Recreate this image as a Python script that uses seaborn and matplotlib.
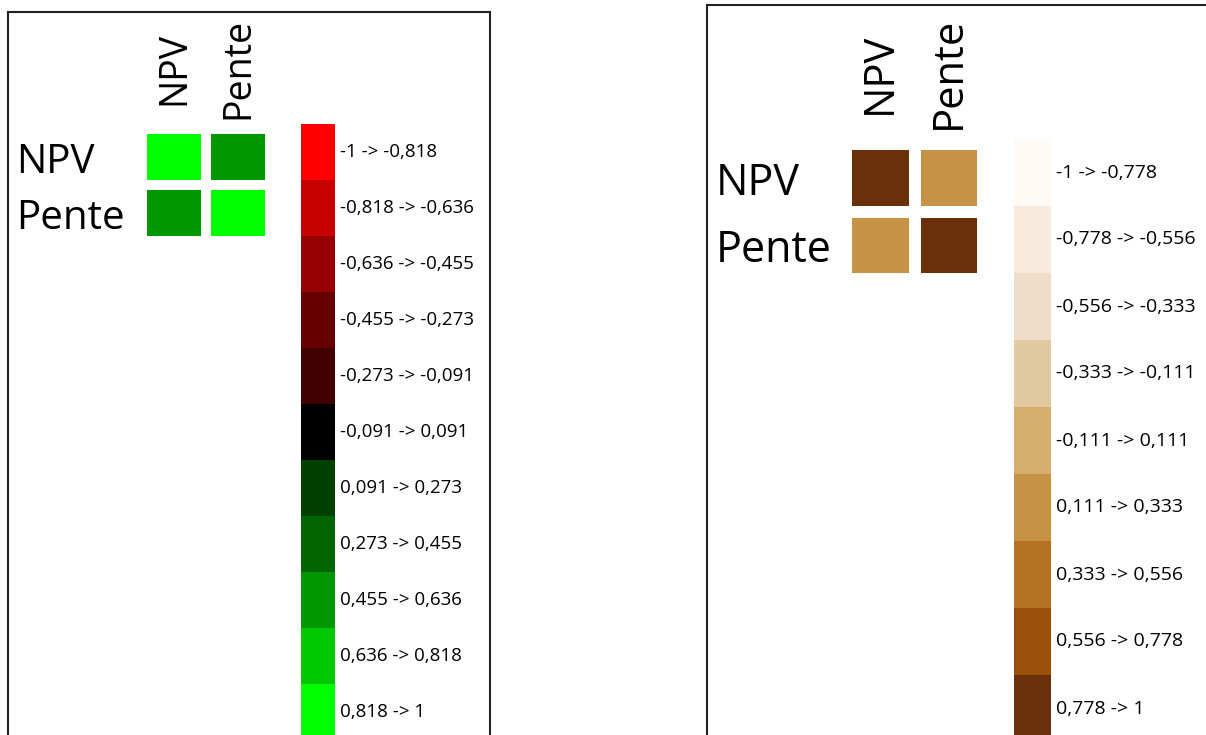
import numpy as np
import pandas as pd
import seaborn as sns
import matplotlib.pyplot as plt
from matplotlib.colors import ListedColormap
from matplotlib.transforms import ScaledTranslation

# data
variables = ["NPV", "Pente"]
corr_left = [[1.0, 0.55], [0.55, 1.0]]
corr_right = [[1.0, 0.2], [0.2, 1.0]]

edges_left = [-1, -0.818, -0.636, -0.455, -0.273, -0.091, 0.091, 0.273, 0.455, 0.636, 0.818, 1]
labels_left = ["-1 -> -0,818", "-0,818 -> -0,636", "-0,636 -> -0,455", "-0,455 -> -0,273",
               "-0,273 -> -0,091", "-0,091 -> 0,091", "0,091 -> 0,273", "0,273 -> 0,455",
               "0,455 -> 0,636", "0,636 -> 0,818", "0,818 -> 1"]
colors_left = ["#ff0000", "#c80000", "#960000", "#640000", "#400000", "#000000",
               "#004000", "#006400", "#009600", "#00c800", "#00ff00"]

edges_right = [-1, -0.778, -0.556, -0.333, -0.111, 0.111, 0.333, 0.556, 0.778, 1]
labels_right = ["-1 -> -0,778", "-0,778 -> -0,556", "-0,556 -> -0,333", "-0,333 -> -0,111",
                "-0,111 -> 0,111", "0,111 -> 0,333", "0,333 -> 0,556", "0,556 -> 0,778", "0,778 -> 1"]
colors_right = ["#fffaf5", "#f7ebdd", "#f0dcc7", "#e1ca9f", "#d5ae6e", "#c69245",
                "#b57124", "#9a500a", "#6a300a"]

W, H = 1206, 735
sns.set_style("white")
plt.rcParams['font.family'] = ['Open Sans', 'DejaVu Sans']
plt.rcParams['text.color'] = 'black'
plt.rcParams['xtick.color'] = 'black'
plt.rcParams['ytick.color'] = 'black'

fig = plt.figure(figsize=(W / 100, H / 100), dpi=100)
fig.patch.set_facecolor("white")


def px_axes(x0, y0, x1, y1):
    # axes from pixel box (top-left origin)
    return fig.add_axes([x0 / W, 1 - y1 / H, (x1 - x0) / W, (y1 - y0) / H])


def panel_box(x0, y0, x1, y1):
    ax = px_axes(x0, y0, x1, y1)
    ax.set_xticks([])
    ax.set_yticks([])
    for s in ax.spines.values():
        s.set_visible(True)
        s.set_color("#222222")
        s.set_linewidth(1.5)
    return ax


def draw_panel(box, hm_box, leg_box, corr, edges, labels, colors, lw,
               colfs, rowfs, colpad, rowpad, rowshift, legfs):
    panel_box(*box)
    cmap = ListedColormap(colors)
    df = pd.DataFrame(corr, index=variables, columns=variables)

    ax = px_axes(*hm_box)
    sns.heatmap(df, ax=ax, cmap=cmap, vmin=-1, vmax=1, cbar=False,
                linewidths=lw, linecolor="white")
    ax.xaxis.tick_top()
    ax.set_xticklabels(variables, rotation=90, fontsize=colfs, ha="center", va="center")
    ax.set_yticklabels(variables, rotation=0, fontsize=rowfs, ha="left", va="center")
    ax.tick_params(axis="x", length=0, pad=colpad)
    ax.tick_params(axis="y", length=0, pad=rowpad)
    off = ScaledTranslation(0, -rowshift / 100, fig.dpi_scale_trans)
    for t in ax.get_yticklabels():
        t.set_transform(t.get_transform() + off)

    centers = (np.array(edges[:-1]) + np.array(edges[1:])) / 2
    lax = px_axes(*leg_box)
    sns.heatmap(centers.reshape(-1, 1), ax=lax, cmap=cmap, vmin=-1, vmax=1,
                cbar=False, xticklabels=False, yticklabels=labels)
    lax.yaxis.tick_right()
    lax.set_yticklabels(labels, rotation=0, fontsize=legfs, ha="left", va="center")
    lax.tick_params(axis="y", length=0, pad=3.5)


draw_panel((8, 12, 490, 800), (142, 128.5, 270, 240.5), (301, 124, 335, 740),
           corr_left, edges_left, labels_left, colors_left,
           lw=7.2, colfs=27, rowfs=29, colpad=43.6, rowpad=90.5, rowshift=6, legfs=13.5)

draw_panel((707, 5, 1300, 800), (846, 144, 983, 279), (1014, 139, 1051, 742),
           corr_right, edges_right, labels_right, colors_right,
           lw=8.6, colfs=30, rowfs=31, colpad=51, rowpad=93.5, rowshift=6, legfs=14)

fig.savefig("out.png", dpi=100, facecolor="white")
